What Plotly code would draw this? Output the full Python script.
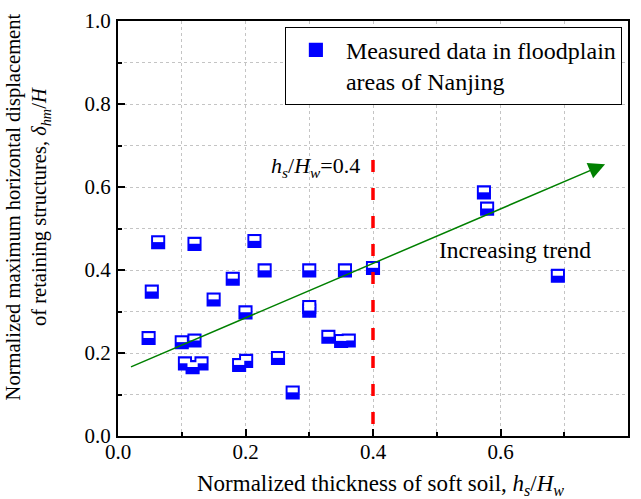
import plotly.graph_objects as go

# ---- data ----
x_vals = [0.063, 0.120, 0.214, 0.053, 0.230, 0.180, 0.150, 0.200, 0.048, 0.100,
          0.120, 0.105, 0.117, 0.131, 0.190, 0.201, 0.251, 0.274, 0.574, 0.579,
          0.690, 0.400, 0.356, 0.300, 0.300, 0.300, 0.330, 0.350, 0.362]
y_vals = [0.467, 0.463, 0.470, 0.348, 0.399, 0.379, 0.329, 0.298, 0.236, 0.226,
          0.230, 0.175, 0.166, 0.175, 0.171, 0.181, 0.188, 0.105, 0.587, 0.548,
          0.386, 0.405, 0.399, 0.399, 0.311, 0.302, 0.239, 0.229, 0.230]

trend_start = (0.018, 0.165)
trend_end = (0.764, 0.655)
threshold_x = 0.4
threshold_top = 0.665

x_ticks = [0.0, 0.2, 0.4, 0.6, 0.8]
y_ticks = [0.0, 0.2, 0.4, 0.6, 0.8, 1.0]

series_name = "Measured data in floodplain<br>areas of Nanjing"

FONT = "Liberation Serif"
BLUE = "#0000FF"
GRID = "#c4c4c4"

fig = go.Figure()

# blue squares
fig.add_trace(go.Scatter(
    x=x_vals, y=y_vals, mode="markers", name=series_name,
    marker=dict(symbol="square", size=12.5, color=BLUE,
                line=dict(color=BLUE, width=1.6)),
    showlegend=True,
))
# white upper half (drawn on a slightly shifted overlay axis)
fig.add_trace(go.Scatter(
    x=x_vals, y=y_vals, mode="markers", yaxis="y2", showlegend=False,
    hoverinfo="skip",
    marker=dict(symbol="line-ew", size=7.3, color="white",
                line=dict(color="white", width=4.8)),
))

axis_common = dict(
    showline=True, linecolor="black", linewidth=2, mirror=True,
    ticks="inside", ticklen=7, tickwidth=1.5, tickcolor="black",
    showgrid=True, gridcolor=GRID, gridwidth=1, griddash="dot",
    zeroline=False, automargin=False,
    tickfont=dict(family=FONT, size=21, color="black"),
    minor=dict(ticks="inside", ticklen=4, tickwidth=1.5, tickcolor="black",
               showgrid=True, gridcolor=GRID, gridwidth=1, griddash="dot",
               dtick=0.1),
)

fig.update_layout(
    width=641, height=499,
    margin=dict(l=118, r=13, t=21, b=63, autoexpand=False),
    paper_bgcolor="white", plot_bgcolor="white",
    font=dict(family=FONT, size=21, color="black"),
    xaxis=dict(range=[0, 0.8], tickvals=x_ticks,
               ticktext=[f"{v:.1f}" for v in x_ticks],
               ticklabelstandoff=-4, **axis_common),
    yaxis=dict(range=[0, 1.0], tickvals=y_ticks,
               ticktext=[f"{v:.1f}" for v in y_ticks],
               ticklabelstandoff=1, **axis_common),
    yaxis2=dict(range=[-0.006, 0.994], overlaying="y", visible=False,
                showgrid=False, automargin=False),
    legend=dict(x=0.988, xanchor="right", y=0.986, yanchor="top",
                bgcolor="white", bordercolor="black", borderwidth=1,
                font=dict(family=FONT, size=24, color="black"),
                itemwidth=50, valign="top", entrywidth=293),
    showlegend=True,
)

# threshold line
fig.add_shape(type="line", xref="x", yref="y",
              x0=threshold_x, x1=threshold_x, y0=threshold_top, y1=0,
              line=dict(color="red", width=3.5, dash="12px,16px"),
              layer="above")

# trend arrow
fig.add_annotation(x=trend_end[0], y=trend_end[1], ax=trend_start[0], ay=trend_start[1],
                   xref="x", yref="y", axref="x", ayref="y", text="",
                   showarrow=True, arrowhead=2, arrowsize=2.2, arrowwidth=1.5,
                   arrowcolor="green", standoff=0)

fig.add_annotation(x=0.622, y=0.448, xref="x", yref="y",
                   text="Increasing trend", showarrow=False,
                   font=dict(family=FONT, size=23.5, color="black"))

fig.add_annotation(x=0.383, y=0.648, xref="x", yref="y", xanchor="right",
                   text="<i>h</i><sub><i>s</i></sub>/<i>H</i><sub><i>w</i></sub>=0.4",
                   showarrow=False, font=dict(family=FONT, size=22, color="black"))

# axis titles
fig.add_annotation(x=0.514, y=-0.08, xref="paper", yref="paper",
                   xanchor="center", yanchor="top",
                   text="Normalized thickness of soft soil, <i>h</i><sub><i>s</i></sub>/<i>H</i><sub><i>w</i></sub>",
                   showarrow=False, font=dict(family=FONT, size=23, color="black"))

fig.add_annotation(x=-0.1775, y=0.552, xref="paper", yref="paper",
                   xanchor="center", yanchor="middle", textangle=-90,
                   text="Normalized maximum horizontal displacement<br>of retaining structures, <i>δ</i><sub><i>hm</i></sub>/<i>H</i>",
                   showarrow=False, font=dict(family=FONT, size=20.5, color="black"))

# remove the default 8px page margin so the figure sits at the window's origin
fig.write_html("out.html", config={"displayModeBar": False},
               post_script="document.body.style.margin='0';")
